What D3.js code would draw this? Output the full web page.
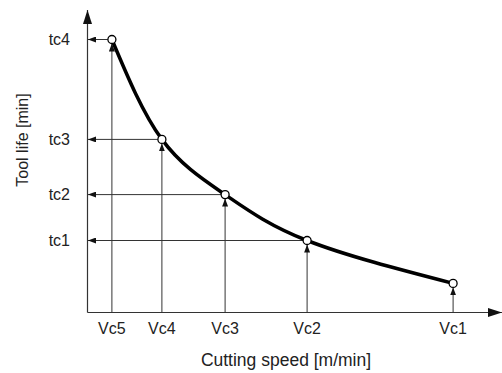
<!DOCTYPE html>
<html>
<head>
<style>
  body { margin: 0; background: #fff; }
  text { font-family: Arial, "Liberation Sans", sans-serif; fill: #222; }
</style>
</head>
<body>
<script src="https://d3js.org/d3.v7.min.js"></script>
<script>

  // speed labels and values (left to right)
  var speedLabels = ["Vc5", "Vc4", "Vc3", "Vc2", "Vc1"];
  var speeds = [6.1, 18.6, 34.4, 54.9, 91.4];
  // tool life at each speed
  var lifeLabels = ["tc4", "tc3", "tc2", "tc1", ""];
  var lives = [91, 57.7, 39.3, 24, 9.7];

  var width = 502;
  var height = 373;

  var svg = d3.select("body")
      .append("svg")
      .attr("width", width)
      .attr("height", height);

  var x = d3.scaleLinear().domain([0, 100]).range([87.5, 487.5]);
  var y = d3.scaleLinear().domain([0, 100]).range([312.5, 12.5]);

  var points = speeds.map(function (s, i) {
    return {v: s, t: lives[i], vl: speedLabels[i], tl: lifeLabels[i]};
  });

  // arrow markers
  var defs = svg.append("defs");
  defs.append("marker")
      .attr("id", "small")
      .attr("viewBox", "0 0 8 6")
      .attr("refX", 8)
      .attr("refY", 3)
      .attr("markerWidth", 8)
      .attr("markerHeight", 6)
      .attr("markerUnits", "userSpaceOnUse")
      .attr("orient", "auto")
    .append("path")
      .attr("d", "M0,0L8,3L0,6Z")
      .attr("fill", "#111");
  defs.append("marker")
      .attr("id", "big")
      .attr("viewBox", "0 0 14 9")
      .attr("refX", 14)
      .attr("refY", 4.5)
      .attr("markerWidth", 14)
      .attr("markerHeight", 9)
      .attr("markerUnits", "userSpaceOnUse")
      .attr("orient", "auto")
    .append("path")
      .attr("d", "M0,0L14,4.5L0,9Z")
      .attr("fill", "#111");

  // axes
  svg.append("line")
      .attr("x1", x(0)).attr("y1", y(0))
      .attr("x2", 502).attr("y2", y(0))
      .attr("stroke", "#333").attr("stroke-width", 1.2)
      .attr("marker-end", "url(#big)");
  svg.append("line")
      .attr("x1", x(0)).attr("y1", y(0))
      .attr("x2", x(0)).attr("y2", 10)
      .attr("stroke", "#333").attr("stroke-width", 1.2)
      .attr("marker-end", "url(#big)");

  var r = 4;

  // vertical guides from speed axis up to each point
  svg.selectAll(".vguide")
      .data(points)
      .enter()
      .append("line")
      .attr("class", "vguide")
      .attr("x1", function (d) { return x(d.v); })
      .attr("y1", y(0))
      .attr("x2", function (d) { return x(d.v); })
      .attr("y2", function (d) { return y(d.t) + r; })
      .attr("stroke", "#333").attr("stroke-width", 1)
      .attr("marker-end", "url(#small)");

  // horizontal guides from each point to tool life axis
  svg.selectAll(".hguide")
      .data(points.filter(function (d) { return d.tl; }))
      .enter()
      .append("line")
      .attr("class", "hguide")
      .attr("x1", function (d) { return x(d.v) - r; })
      .attr("y1", function (d) { return y(d.t); })
      .attr("x2", x(0) + 0.5)
      .attr("y2", function (d) { return y(d.t); })
      .attr("stroke", "#333").attr("stroke-width", 1)
      .attr("marker-end", "url(#small)");

  // the tool life curve
  var line = d3.line()
      .x(function (d) { return x(d.v); })
      .y(function (d) { return y(d.t); })
      .curve(d3.curveNatural);

  svg.append("path")
      .datum(points)
      .attr("d", line)
      .attr("fill", "none")
      .attr("stroke", "#000")
      .attr("stroke-width", 3.5);

  svg.selectAll(".pt")
      .data(points)
      .enter()
      .append("circle")
      .attr("class", "pt")
      .attr("cx", function (d) { return x(d.v); })
      .attr("cy", function (d) { return y(d.t); })
      .attr("r", r)
      .attr("fill", "#fff")
      .attr("stroke", "#000")
      .attr("stroke-width", 1.3);

  // tick labels
  svg.selectAll(".vlab")
      .data(points)
      .enter()
      .append("text")
      .attr("class", "vlab")
      .attr("x", function (d) { return x(d.v); })
      .attr("y", 333.5)
      .attr("text-anchor", "middle")
      .style("font-size", "16px")
      .text(function (d) { return d.vl; });

  svg.selectAll(".tlab")
      .data(points.filter(function (d) { return d.tl; }))
      .enter()
      .append("text")
      .attr("class", "tlab")
      .attr("x", 70)
      .attr("y", function (d) { return y(d.t) + 5.5; })
      .attr("text-anchor", "end")
      .style("font-size", "16px")
      .text(function (d) { return d.tl; });

  // axis titles
  svg.append("text")
      .attr("x", 286)
      .attr("y", 366)
      .attr("text-anchor", "middle")
      .style("font-size", "17.5px")
      .text("Cutting speed [m/min]");

  svg.append("text")
      .attr("transform", "translate(27.5,140) rotate(-90)")
      .attr("text-anchor", "middle")
      .style("font-size", "16px")
      .text("Tool life [min]");

</script>
</body>
</html>
